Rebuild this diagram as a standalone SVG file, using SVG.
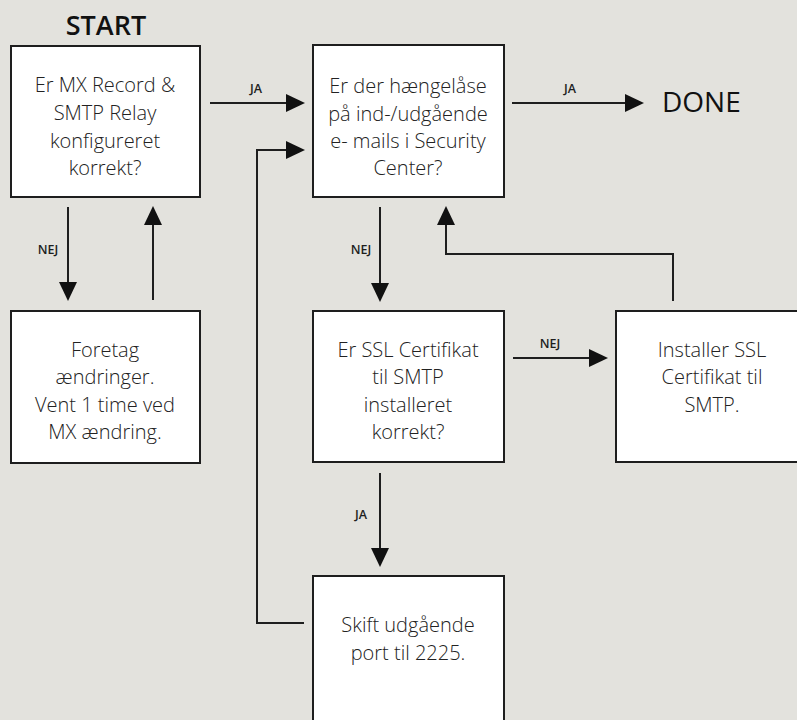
<svg xmlns="http://www.w3.org/2000/svg" width="797" height="720" viewBox="0 0 797 720">
<style>
.bg{fill:#e3e2dd}
.box{fill:#ffffff;stroke:#1e1e1e;stroke-width:2}
.t{font-family:"Open Sans","Noto Sans",sans-serif;font-size:20px;font-weight:300;fill:#222;text-anchor:middle}
.lbl{font-family:"Open Sans","Noto Sans",sans-serif;font-size:12.5px;font-weight:600;fill:#1e1e1e;text-anchor:middle}
.big{font-family:"Open Sans","Noto Sans",sans-serif;fill:#111}
.c{fill:none;stroke:#1e1e1e;stroke-width:2}
</style>
<defs>
<marker id="ah" markerUnits="userSpaceOnUse" markerWidth="20" markerHeight="20" refX="9" refY="9" orient="auto">
<path d="M0,0 L19,9 L0,18 z" fill="#111"/>
</marker>
</defs>
<rect class="bg" x="0" y="0" width="797" height="720"/>
<text class="big" x="106" y="35" font-size="27" font-weight="600" text-anchor="middle">START</text>
<text class="big" x="662" y="112" font-size="28" font-weight="500">DONE</text>
<g id="n1">
<rect class="box" x="11" y="46" width="189" height="151"/>
<text class="t" x="105" y="92">Er MX Record &amp;</text>
<text class="t" x="105" y="120">SMTP Relay</text>
<text class="t" x="105" y="148">konfigureret</text>
<text class="t" x="105" y="175">korrekt?</text>
</g>
<g id="n2">
<rect class="box" x="313" y="45" width="191" height="152"/>
<text class="t" x="408" y="93">Er der hængelåse</text>
<text class="t" x="408" y="121">på ind-/udgående</text>
<text class="t" x="408" y="148">e- mails i Security</text>
<text class="t" x="408" y="175">Center?</text>
</g>
<g id="n3">
<rect class="box" x="11" y="311" width="189" height="152"/>
<text class="t" x="105" y="357">Foretag</text>
<text class="t" x="105" y="384">ændringer.</text>
<text class="t" x="105" y="412">Vent 1 time ved</text>
<text class="t" x="105" y="439">MX ændring.</text>
</g>
<g id="n4">
<rect class="box" x="313" y="311" width="191" height="151"/>
<text class="t" x="408" y="357">Er SSL Certifikat</text>
<text class="t" x="408" y="384">til SMTP</text>
<text class="t" x="408" y="412">installeret</text>
<text class="t" x="408" y="439">korrekt?</text>
</g>
<g id="n5">
<rect class="box" x="616" y="311" width="191" height="151"/>
<text class="t" x="712" y="357">Installer SSL</text>
<text class="t" x="712" y="384">Certifikat til</text>
<text class="t" x="712" y="412">SMTP.</text>
</g>
<g id="n6">
<rect class="box" x="313" y="576" width="191" height="160"/>
<text class="t" x="408" y="632">Skift udgående</text>
<text class="t" x="408" y="660">port til 2225.</text>
</g>
<g id="connectors">
<path class="c" d="M210,103 H295" marker-end="url(#ah)"/>
<text class="lbl" x="256" y="93">JA</text>
<path class="c" d="M512,103 H634" marker-end="url(#ah)"/>
<text class="lbl" x="570" y="93">JA</text>
<path class="c" d="M68,207 V291" marker-end="url(#ah)"/>
<text class="lbl" x="48" y="254">NEJ</text>
<path class="c" d="M153,300 V216" marker-end="url(#ah)"/>
<path class="c" d="M380,207 V292" marker-end="url(#ah)"/>
<text class="lbl" x="361" y="254">NEJ</text>
<path class="c" d="M673,301 V254 H446 V216" marker-end="url(#ah)"/>
<path class="c" d="M513,358 H598" marker-end="url(#ah)"/>
<text class="lbl" x="550" y="348">NEJ</text>
<path class="c" d="M380,473 V557" marker-end="url(#ah)"/>
<text class="lbl" x="361" y="519">JA</text>
<path class="c" d="M304,623 H257 V150 H295" marker-end="url(#ah)"/>
</g>
</svg>
